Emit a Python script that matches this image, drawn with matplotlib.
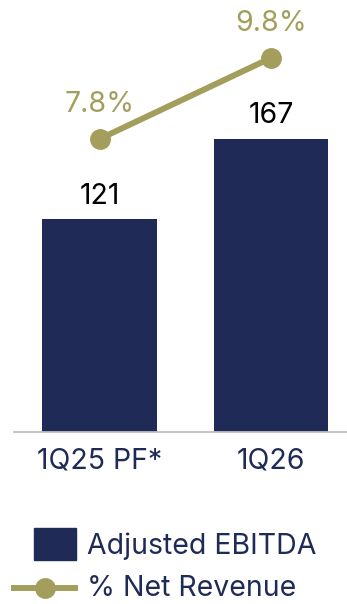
import matplotlib.pyplot as plt
from matplotlib.patches import Rectangle
from matplotlib.lines import Line2D

plt.rcParams['font.family'] = ['Inter', 'DejaVu Sans']

periods = ['1Q25 PF*', '1Q26']
ebitda = [121, 167]
margin = [7.8, 9.8]

navy = '#1F2A56'
olive = '#A39E5C'

W, H = 347, 604
fig = plt.figure(figsize=(W / 100, H / 100), dpi=100)
ax = fig.add_axes([14 / W, (H - 432) / H, 333 / W, 432 / H])

x = list(range(len(periods)))
ax.bar(x, ebitda, width=0.67, color=navy)
for xi, v in zip(x, ebitda):
    ax.annotate(str(v), (xi, v), xytext=(0, 7), textcoords='offset points',
                ha='center', va='bottom', fontsize=20.5, color='black')

ax.set_xlim(-0.4985, 1.443)
ax.set_ylim(0, 245.9)
ax.set_xticks(x)
ax.set_xticklabels(periods, fontsize=20.5, color=navy)
ax.tick_params(axis='x', length=0, pad=11)
ax.set_yticks([])
for s in ['top', 'right', 'left']:
    ax.spines[s].set_visible(False)
ax.spines['bottom'].set_color('#BFBFBF')
ax.spines['bottom'].set_linewidth(1.3)

# margin line on its own scale
ax2 = ax.twinx()
ax2.plot(x, margin, color=olive, lw=4.3, marker='o', markersize=14, solid_capstyle='round')
for xi, v in zip(x, margin):
    ax2.annotate(f'{v}%', (xi, v), xytext=(0, 15), textcoords='offset points',
                 ha='center', va='bottom', fontsize=20.5, color=olive)
ax2.set_ylim(0.565, 11.23)
ax2.set_yticks([])
ax2.axis('off')

# legend
fig.add_artist(Rectangle((34 / W, 1 - 560 / H), 42 / W, 32 / H,
                         transform=fig.transFigure, color=navy))
fig.text(87 / W, 1 - 546 / H, 'Adjusted EBITDA', fontsize=20.5, color=navy, va='center')
fig.add_artist(Line2D([14 / W, 75 / W], [1 - 588 / H, 1 - 588 / H], transform=fig.transFigure,
                      color=olive, lw=4.3))
fig.add_artist(Line2D([44.5 / W], [1 - 588 / H], transform=fig.transFigure,
                      color=olive, marker='o', markersize=14))
fig.text(87 / W, 1 - 588 / H, '% Net Revenue', fontsize=20.5, color=navy, va='center')

fig.savefig('out.png', dpi=100)
